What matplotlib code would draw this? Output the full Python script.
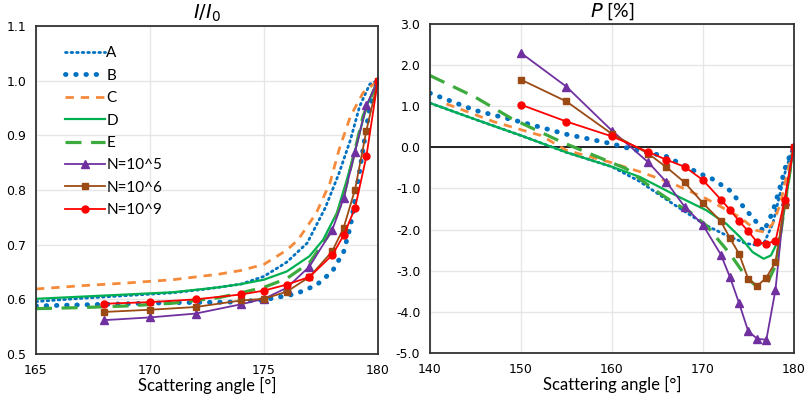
import matplotlib.pyplot as plt
from matplotlib.ticker import MultipleLocator, FormatStrFormatter

plt.rcParams['font.family'] = ['Lato', 'DejaVu Sans']

# ---- left panel: I/I0 ----
la_x = [165, 167, 169, 171, 172.5, 174, 175, 176, 176.9, 177.7, 178.3, 178.8, 179.2, 179.65, 180]
la_y = [0.596, 0.602, 0.607, 0.612, 0.619, 0.628, 0.642, 0.668, 0.703, 0.768, 0.831, 0.892, 0.953, 0.994, 1.0]
lb_x = [165, 168, 171, 173.5, 175, 176.4, 177.3, 178, 178.5, 178.8, 179.05, 179.35, 179.65, 180]
lb_y = [0.588, 0.591, 0.594, 0.595, 0.599, 0.610, 0.626, 0.651, 0.687, 0.734, 0.795, 0.874, 0.953, 1.0]
lc_x = [165, 167, 169, 171, 173, 174, 175, 176, 176.5, 177.3, 177.9, 178.3, 178.8, 179.35, 180]
lc_y = [0.619, 0.625, 0.630, 0.636, 0.646, 0.653, 0.664, 0.690, 0.709, 0.758, 0.813, 0.874, 0.935, 0.978, 1.0]
ld_x = [165, 167, 169, 171, 173, 174, 175, 176, 177, 177.6, 178.2, 178.6, 179.05, 179.5, 180]
ld_y = [0.601, 0.605, 0.609, 0.613, 0.622, 0.628, 0.636, 0.651, 0.679, 0.709, 0.758, 0.813, 0.880, 0.953, 1.0]
le_x = [165, 167, 169, 171, 173, 174, 175, 176, 177, 177.9, 178.5, 178.9, 179.35, 180]
le_y = [0.583, 0.585, 0.588, 0.593, 0.603, 0.612, 0.622, 0.638, 0.667, 0.721, 0.788, 0.856, 0.935, 1.0]

ln_x = [168, 170, 172, 174, 175, 176, 177, 178, 178.5, 179, 179.5, 180]
ln5 = [0.562, 0.567, 0.574, 0.591, 0.601, 0.621, 0.660, 0.727, 0.785, 0.870, 0.955, 1.0]
ln6 = [0.577, 0.581, 0.586, 0.598, 0.601, 0.614, 0.641, 0.688, 0.731, 0.801, 0.909, 1.0]
ln9 = [0.592, 0.595, 0.600, 0.609, 0.616, 0.627, 0.641, 0.681, 0.717, 0.767, 0.862, 1.0]

# ---- right panel: P [%] ----
ra_x = [140, 145, 150, 155, 160, 163, 166.7, 170.4, 172.6, 174.8, 176, 176.8, 177.7, 178.5, 179.2, 180]
ra_y = [1.08, 0.68, 0.29, -0.12, -0.47, -0.82, -1.37, -1.90, -2.14, -2.34, -2.38, -2.30, -1.86, -1.13, -0.48, 0]
rb_x = [140, 145, 150, 155, 160, 162.3, 166, 169.7, 171, 173, 174.8, 176.3, 176.7, 177.7, 178.5, 179.2, 180]
rb_y = [1.32, 0.90, 0.62, 0.32, 0.09, -0.05, -0.22, -0.64, -0.76, -1.05, -1.53, -1.92, -2.06, -1.57, -0.97, -0.40, 0]
rc_x = [141.8, 147.1, 152.2, 155, 159.8, 163.2, 166.7, 170.4, 174.1, 175.9, 176.8, 177.7, 178.5, 179.2, 180]
rc_y = [1.06, 0.62, 0.29, -0.07, -0.36, -0.60, -0.88, -1.25, -1.70, -2.02, -2.06, -1.86, -1.41, -0.72, 0]
rd_x = [140, 145, 150, 155, 160, 163.1, 166.7, 170.4, 172.6, 174.1, 175.5, 176.7, 177.5, 178.5, 179.2, 180]
rd_y = [1.08, 0.68, 0.29, -0.12, -0.47, -0.72, -1.13, -1.53, -1.86, -2.18, -2.55, -2.71, -2.63, -2.18, -1.21, 0]
re_x = [140, 145, 149, 154.5, 158, 161.6, 164.5, 166.7, 168.6, 170.4, 173, 174.8, 176, 177, 178.1, 179, 180]
re_y = [1.75, 1.22, 0.70, 0.13, -0.19, -0.52, -1.00, -1.33, -1.57, -1.90, -2.59, -3.16, -3.40, -3.36, -2.83, -1.45, 0]

rn_x = [150, 155, 160, 164, 166, 168, 170, 172, 173, 174, 175, 176, 177, 178, 179, 180]
rn5 = [2.30, 1.48, 0.41, -0.36, -0.84, -1.44, -1.88, -2.61, -3.16, -3.79, -4.47, -4.66, -4.68, -3.47, -1.30, 0]
rn6 = [1.65, 1.12, 0.33, -0.15, -0.48, -0.85, -1.35, -1.80, -2.21, -2.59, -3.20, -3.37, -3.17, -2.79, -1.41, 0]
rn9 = [1.04, 0.63, 0.27, -0.11, -0.30, -0.47, -0.79, -1.27, -1.52, -1.79, -2.04, -2.31, -2.34, -2.28, -1.29, 0]

blue = '#0070C0'
orange = '#F58A3A'
green_d = '#00B050'
green_e = '#3DAA3D'
purple = '#7030A0'
brown = '#9C4A14'
red = '#FF0000'


def draw_models(ax, a, b, c, d, e):
    ax.plot(*a, color=blue, lw=2, linestyle=(0, (0.6, 1.4)), dash_capstyle='round', label='A')
    ax.plot(*b, color=blue, lw=3.5, linestyle=(0, (0.1, 2.0)), dash_capstyle='round', label='B')
    ax.plot(*c, color=orange, lw=2, linestyle=(0, (3, 2.5)), label='C')
    ax.plot(*d, color=green_d, lw=1.6, label='D')
    ax.plot(*e, color=green_e, lw=2.3, linestyle=(0, (5, 3)), label='E')


def draw_n(ax, x, n5, n6, n9):
    ax.plot(x, n5, color=purple, lw=1.3, marker='^', ms=5.5, label='N=10^5')
    ax.plot(x, n6, color=brown, lw=1.3, marker='s', ms=5, label='N=10^6')
    ax.plot(x, n9, color=red, lw=1.3, marker='o', ms=5, label='N=10^9')


def style(ax):
    ax.grid(True, color='#e6e6e6', lw=1)
    ax.set_axisbelow(True)
    ax.tick_params(length=0, labelsize=9, pad=7)
    for lab in ax.get_xticklabels() + ax.get_yticklabels():
        lab.set_family('DejaVu Sans')
    for s in ax.spines.values():
        s.set_color('#333333')
        s.set_linewidth(1.3)
    ax.yaxis.set_major_formatter(FormatStrFormatter('%.1f'))
    ax.set_xlabel('Scattering angle [°]', fontsize=12, labelpad=0)


fig = plt.figure(figsize=(8.09, 3.96), dpi=100)

ax1 = fig.add_axes([0.0445, 0.106, 0.4225, 0.828])
draw_models(ax1, (la_x, la_y), (lb_x, lb_y), (lc_x, lc_y), (ld_x, ld_y), (le_x, le_y))
draw_n(ax1, ln_x, ln5, ln6, ln9)
ax1.set_xlim(165, 180)
ax1.set_ylim(0.5, 1.1)
ax1.xaxis.set_major_locator(MultipleLocator(5))
ax1.yaxis.set_major_locator(MultipleLocator(0.1))
style(ax1)
ax1.set_title(r'$I/I_{\mathrm{0}}$', fontsize=14, pad=5)
ax1.legend(loc='upper left', frameon=False, fontsize=11, handlelength=2.6,
           handletextpad=0.1, labelspacing=0.55, borderaxespad=0.6,
           bbox_to_anchor=(0.04, 0.985))

ax2 = fig.add_axes([0.5315, 0.109, 0.4495, 0.830])
draw_models(ax2, (ra_x, ra_y), (rb_x, rb_y), (rc_x, rc_y), (rd_x, rd_y), (re_x, re_y))
draw_n(ax2, rn_x, rn5, rn6, rn9)
ax2.axhline(0, color='black', lw=1.2, zorder=1.5)
ax2.set_xlim(140, 180)
ax2.set_ylim(-5, 3)
ax2.xaxis.set_major_locator(MultipleLocator(10))
ax2.yaxis.set_major_locator(MultipleLocator(1))
style(ax2)
ax2.set_title(r'$P$ [%]', fontsize=14, pad=5)

fig.savefig('out.png', dpi=100)
